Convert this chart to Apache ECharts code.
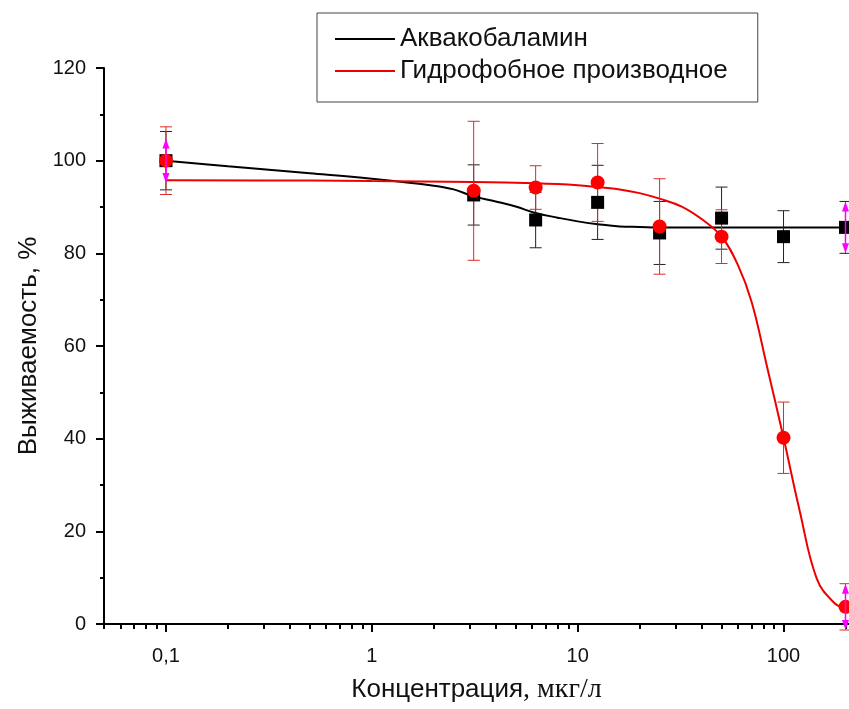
<!DOCTYPE html>
<html>
<head>
<meta charset="utf-8">
<script src="https://cdn.jsdelivr.net/npm/echarts@6/dist/echarts.min.js"></script>
<style>
html, body { margin: 0; padding: 0; background: #fff; }
#main { width: 849px; height: 709px; }
</style>
</head>
<body>
<div id="main"></div>
<script>
// концентрации, мкг/л
var conc = [0.1, 3.125, 6.25, 12.5, 25, 50, 100, 200];
var aquaMean = [100, 92.6, 87.2, 91.0, 84.4, 87.6, 83.6, 85.6];
var aquaErr = [6.3, 6.5, 6.0, 8.0, 6.8, 6.7, 5.6, 5.6];
var hydroMean = [100, 93.5, 94.2, 95.3, 85.8, 83.6, 40.2, 3.7];
var hydroErr = [7.3, 15.0, 4.7, 8.4, 10.3, 5.8, 7.7, 5.0];

// аппроксимирующие кривые
var aquaFitX = [0.1, 0.2, 0.5, 1, 2, 2.5, 3.125, 4, 5, 6.25, 8, 10, 12.5, 16, 20, 25, 50, 100, 200];
var aquaFitY = [100, 98.8, 97.3, 96.1, 94.6, 93.8, 92.3, 91.2, 90.1, 88.7, 87.7, 86.9, 86.3, 85.8, 85.7, 85.6, 85.6, 85.6, 85.6];
var hydroFitX = [0.1, 0.5, 1, 3.125, 6.25, 10, 12.5, 16, 20, 25, 32, 40, 50, 60, 70, 83, 100, 120, 145, 175, 200];
var hydroFitY = [95.8, 95.7, 95.6, 95.4, 95.1, 94.7, 94.3, 93.8, 93.0, 91.8, 90.1, 87.4, 83.6, 77.5, 69.5, 55.7, 40.2, 24.3, 9.8, 4.7, 3.3];

// розовые стрелки на крайних точках
var arrowX = [0.1, 200, 200];
var arrowY = [100, 85.6, 3.7];
var arrowErr = [4.8, 5.6, 5.0];

var majorTicks = [0.1, 1, 10, 100];
var minorTicks = [0.05, 0.06, 0.07, 0.08, 0.09, 0.2, 0.3, 0.4, 0.5, 0.6, 0.7, 0.8, 0.9,
  2, 3, 4, 5, 6, 7, 8, 9, 20, 30, 40, 50, 60, 70, 80, 90, 200];

var xMin = 0.05, xMax = 208;
var font = 'Liberation Sans';

function zip(xs, ys) {
  return xs.map(function (x, i) { return [x, ys[i]]; });
}
function bars(xs, ys, es) {
  return xs.map(function (x, i) { return [x, ys[i] - es[i], ys[i] + es[i]]; });
}

function errorBars(color) {
  return function (params, api) {
    var x = api.value(0);
    var bot = api.coord([x, api.value(1)]);
    var top = api.coord([x, api.value(2)]);
    var w = 6;
    var style = { stroke: color, lineWidth: 1 };
    return {
      type: 'group',
      children: [
        { type: 'line', shape: { x1: top[0], y1: top[1], x2: bot[0], y2: bot[1] }, style: style },
        { type: 'line', shape: { x1: top[0] - w, y1: top[1], x2: top[0] + w, y2: top[1] }, style: style },
        { type: 'line', shape: { x1: bot[0] - w, y1: bot[1], x2: bot[0] + w, y2: bot[1] }, style: style }
      ]
    };
  };
}

function arrows(params, api) {
  var x = api.value(0);
  var bot = api.coord([x, api.value(1)]);
  var top = api.coord([x, api.value(2)]);
  var c = '#ff00ff';
  return {
    type: 'group',
    children: [
      { type: 'line', shape: { x1: top[0], y1: top[1] + 4, x2: bot[0], y2: bot[1] - 4 }, style: { stroke: c, lineWidth: 1.5 } },
      { type: 'polygon', shape: { points: [[top[0], top[1]], [top[0] - 3.5, top[1] + 10], [top[0] + 3.5, top[1] + 10]] }, style: { fill: c } },
      { type: 'polygon', shape: { points: [[bot[0], bot[1]], [bot[0] - 3.5, bot[1] - 10], [bot[0] + 3.5, bot[1] - 10]] }, style: { fill: c } }
    ]
  };
}

var chart = echarts.init(document.getElementById('main'));
chart.setOption({
  backgroundColor: '#fff',
  animation: false,
  textStyle: { fontFamily: font },
  legend: {
    orient: 'vertical',
    left: 317,
    top: 13,
    data: ['Аквакобаламин', 'Гидрофобное производное'],
    icon: 'rect',
    itemWidth: 60,
    itemHeight: 2,
    itemGap: 6,
    padding: [13, 30, 18, 18],
    borderColor: '#444',
    borderWidth: 1,
    textStyle: { fontSize: 26, fontFamily: font, color: '#111' }
  },
  grid: { left: 104, right: 0, top: 68, bottom: 84 },
  xAxis: [{
    type: 'log',
    min: xMin,
    max: xMax,
    position: 'bottom',
    name: '{a|Концентрация}{b|, мкг/л}',
    nameLocation: 'middle',
    nameGap: 52,
    nameTextStyle: {
      rich: {
        a: { fontFamily: font, fontSize: 26, color: '#111' },
        b: { fontFamily: 'Liberation Serif', fontSize: 28, color: '#111' }
      }
    },
    axisLine: { lineStyle: { color: '#000', width: 2 } },
    axisTick: { length: 8, lineStyle: { color: '#000', width: 2 }, customValues: majorTicks },
    axisLabel: {
      customValues: majorTicks,
      margin: 22,
      fontSize: 20,
      color: '#111',
      formatter: function (v) { return String(v).replace('.', ','); }
    },
    splitLine: { show: false }
  }, {
    type: 'log',
    min: xMin,
    max: xMax,
    position: 'bottom',
    axisLine: { show: false },
    axisTick: { length: 5, lineStyle: { color: '#000', width: 2 }, customValues: minorTicks },
    axisLabel: { show: false },
    splitLine: { show: false }
  }],
  yAxis: {
    type: 'value',
    min: 0,
    max: 120,
    interval: 20,
    name: 'Выживаемость, %',
    nameLocation: 'middle',
    nameGap: 62,
    nameTextStyle: { fontSize: 26, color: '#111', fontFamily: font },
    axisLine: { show: true, lineStyle: { color: '#000', width: 2 } },
    axisTick: { length: 8, lineStyle: { color: '#000', width: 2 } },
    minorTick: { show: true, splitNumber: 2, length: 4, lineStyle: { color: '#000', width: 2 } },
    axisLabel: { margin: 18, fontSize: 20, color: '#111' },
    splitLine: { show: false }
  },
  series: [
    {
      name: 'Аквакобаламин',
      type: 'line',
      data: zip(aquaFitX, aquaFitY),
      showSymbol: false,
      smooth: 0.4,
      color: '#000',
      lineStyle: { color: '#000', width: 2 },
      z: 2
    },
    {
      name: 'Гидрофобное производное',
      type: 'line',
      data: zip(hydroFitX, hydroFitY),
      showSymbol: false,
      smooth: 0.4,
      color: '#ee0000',
      lineStyle: { color: '#ee0000', width: 2 },
      z: 2
    },
    {
      type: 'custom',
      data: bars(conc, aquaMean, aquaErr),
      renderItem: errorBars('#222'),
      encode: { x: 0, y: [1, 2] },
      z: 3
    },
    {
      type: 'custom',
      data: bars(conc, hydroMean, hydroErr),
      renderItem: errorBars('#dd2a2a'),
      encode: { x: 0, y: [1, 2] },
      z: 3
    },
    {
      type: 'scatter',
      data: zip(conc, aquaMean),
      symbol: 'rect',
      symbolSize: 13,
      itemStyle: { color: '#000', opacity: 1 },
      z: 4
    },
    {
      type: 'scatter',
      data: zip(conc, hydroMean),
      symbol: 'circle',
      symbolSize: 14,
      itemStyle: { color: '#ff0000', opacity: 1 },
      z: 5
    },
    {
      type: 'custom',
      data: bars(arrowX, arrowY, arrowErr),
      renderItem: arrows,
      encode: { x: 0, y: [1, 2] },
      z: 6
    }
  ]
});
</script>
</body>
</html>
